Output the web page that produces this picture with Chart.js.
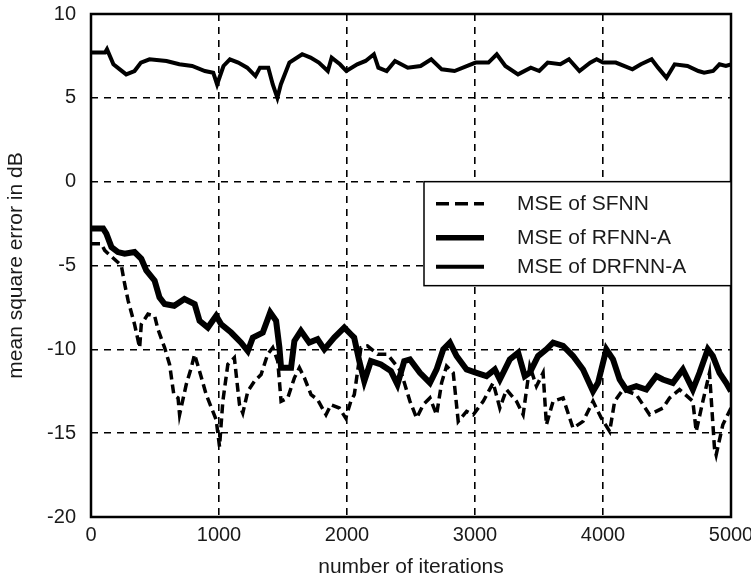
<!DOCTYPE html>
<html>
<head>
<meta charset="utf-8">
<script src="https://cdn.jsdelivr.net/npm/chart.js@4/dist/chart.umd.min.js"></script>
<style>
  html, body { margin: 0; padding: 0; background: #fff; }
  #wrap { width: 751px; height: 582px; }
</style>
</head>
<body>
<div id="wrap"><canvas id="mseChart"></canvas></div>
<script>
// values (iteration, MSE in dB)
const sfnnIter = [0, 80, 107, 150, 237, 263, 290, 340, 380, 393, 445, 497, 523, 575, 614, 647, 680, 692, 744, 783, 809, 848, 900, 952, 978, 1004, 1030, 1069, 1120, 1160, 1186, 1225, 1277, 1329, 1380, 1420, 1459, 1485, 1537, 1589, 1628, 1667, 1719, 1770, 1836, 1875, 1940, 1990, 2030, 2057, 2083, 2109, 2160, 2240, 2317, 2420, 2492, 2544, 2596, 2648, 2700, 2739, 2778, 2830, 2869, 2934, 2986, 3064, 3142, 3194, 3246, 3324, 3376, 3428, 3480, 3532, 3558, 3610, 3688, 3766, 3844, 3922, 3987, 4052, 4091, 4156, 4260, 4364, 4468, 4520, 4598, 4702, 4728, 4780, 4832, 4871, 4884, 4936, 5000];
const sfnnMse = [-3.7, -3.7, -4.1, -4.4, -5.0, -6.1, -7.1, -8.5, -9.9, -8.5, -7.9, -8.0, -8.8, -9.9, -10.9, -12.7, -12.9, -13.9, -12.1, -11.1, -10.3, -11.3, -12.7, -13.7, -14.2, -15.8, -13.1, -10.9, -10.5, -13.3, -13.8, -12.5, -11.9, -11.5, -10.3, -9.9, -10.7, -13.1, -12.9, -11.7, -11.1, -11.7, -12.7, -13.0, -13.9, -13.3, -13.5, -14.1, -13.1, -12.7, -11.3, -9.9, -9.8, -10.3, -10.3, -11.3, -13.1, -14.1, -13.3, -12.9, -13.9, -12.0, -11.0, -11.4, -14.3, -13.7, -13.9, -13.1, -12.0, -13.5, -12.4, -13.1, -13.9, -11.0, -12.2, -11.4, -14.5, -13.1, -12.9, -14.7, -14.3, -13.1, -14.1, -14.9, -13.1, -12.4, -12.7, -13.9, -13.5, -12.9, -12.4, -13.1, -14.9, -13.1, -11.4, -15.9, -16.3, -14.5, -13.5];

const rfnnIter = [0, 95, 120, 160, 210, 263, 340, 393, 432, 497, 535, 575, 650, 730, 810, 848, 913, 978, 1017, 1095, 1173, 1225, 1264, 1342, 1400, 1446, 1472, 1485, 1563, 1589, 1640, 1705, 1770, 1823, 1900, 1979, 2030, 2056, 2096, 2135, 2187, 2265, 2343, 2394, 2447, 2492, 2570, 2648, 2700, 2752, 2804, 2856, 2934, 3012, 3090, 3155, 3194, 3272, 3337, 3389, 3428, 3493, 3558, 3610, 3688, 3766, 3844, 3922, 3961, 4026, 4078, 4130, 4182, 4260, 4338, 4416, 4468, 4546, 4624, 4702, 4754, 4819, 4858, 4910, 4962, 5000];
const rfnnMse = [-2.8, -2.8, -3.1, -3.9, -4.2, -4.3, -4.2, -4.6, -5.3, -5.9, -6.9, -7.3, -7.4, -7.0, -7.3, -8.3, -8.7, -8.0, -8.5, -9.0, -9.6, -10.1, -9.3, -9.0, -7.8, -8.3, -9.9, -11.1, -11.1, -9.5, -8.9, -9.6, -9.4, -10.0, -9.3, -8.7, -9.1, -9.3, -10.7, -11.9, -10.7, -10.9, -11.3, -12.1, -10.7, -10.6, -11.4, -12.0, -11.2, -10.0, -9.6, -10.4, -11.2, -11.4, -11.6, -11.2, -11.8, -10.6, -10.2, -11.6, -11.4, -10.4, -10.0, -9.6, -9.8, -10.4, -11.2, -12.5, -12.0, -10.0, -10.6, -11.8, -12.4, -12.2, -12.4, -11.6, -11.8, -12.0, -11.2, -12.4, -11.4, -10.0, -10.4, -11.4, -12.0, -12.5];

const drfnnIter = [0, 110, 125, 175, 225, 275, 340, 390, 457, 590, 690, 790, 890, 955, 985, 1035, 1085, 1150, 1220, 1285, 1320, 1385, 1420, 1456, 1483, 1550, 1650, 1715, 1780, 1850, 1880, 1945, 1995, 2080, 2145, 2210, 2245, 2310, 2375, 2475, 2575, 2658, 2740, 2840, 2940, 3005, 3105, 3170, 3237, 3336, 3436, 3502, 3568, 3667, 3734, 3816, 3900, 3950, 4000, 4100, 4230, 4296, 4380, 4430, 4496, 4560, 4660, 4745, 4790, 4860, 4910, 4960, 5000];
const drfnnMse = [7.7, 7.7, 7.9, 7.0, 6.7, 6.4, 6.6, 7.1, 7.3, 7.2, 7.0, 6.9, 6.6, 6.5, 5.8, 6.9, 7.3, 7.1, 6.8, 6.3, 6.8, 6.8, 5.8, 5.0, 5.8, 7.1, 7.6, 7.4, 7.1, 6.6, 7.4, 7.0, 6.6, 7.0, 7.2, 7.6, 6.8, 6.6, 7.2, 6.8, 6.9, 7.3, 6.7, 6.6, 6.9, 7.1, 7.1, 7.6, 6.9, 6.4, 6.8, 6.6, 7.1, 7.0, 7.3, 6.6, 7.1, 7.3, 7.1, 7.1, 6.7, 7.0, 7.3, 6.8, 6.2, 7.0, 6.9, 6.6, 6.5, 6.6, 7.0, 6.9, 7.0];

const seriesLabels = ["MSE of SFNN", "MSE of RFNN-A", "MSE of DRFNN-A"];

const xTicks = [0, 1000, 2000, 3000, 4000, 5000];
const yTicks = [-20, -15, -10, -5, 0, 5, 10];

function toPoints(xs, ys) {
    return xs.map((x, i) => ({ x: x, y: ys[i] }));
}

const FONT = "'Liberation Sans', Arial, sans-serif";

// no extra room for half tick labels, so the plot box sits where the layout padding says
function noLabelPadding(scale) {
    scale.paddingLeft = 0;
    scale.paddingRight = 0;
    scale.paddingTop = 0;
    scale.paddingBottom = 0;
}

// boxed legend in the upper right of the plot area
const boxLegend = {
    id: 'boxLegend',
    afterDraw(chart) {
        const c = chart.ctx;
        const area = chart.chartArea;
        const yScale = chart.scales.y;
        const right = area.right;
        const left = right - 307;
        const top = yScale.getPixelForValue(0);
        const bottom = top + 104;
        c.save();
        c.fillStyle = '#fff';
        c.fillRect(left, top, right - left, bottom - top);
        c.strokeStyle = '#000';
        c.lineWidth = 1.5;
        c.strokeRect(left, top, right - left, bottom - top);

        const rows = [22, 56, 85];
        c.font = "21px " + FONT;
        c.textBaseline = 'middle';
        c.textAlign = 'left';
        chart.data.datasets.forEach((ds, i) => {
            const y = top + rows[i];
            c.beginPath();
            c.strokeStyle = '#000';
            c.lineWidth = i === 0 ? 3.5 : (i === 1 ? 5.5 : 4);
            c.setLineDash(i === 0 ? [13, 6] : []);
            c.moveTo(left + 12, y);
            c.lineTo(left + 60, y);
            c.stroke();
            c.setLineDash([]);
            c.fillStyle = '#1a1a1a';
            c.fillText(ds.label, left + 93, y + 1);
        });
        c.restore();
    }
};

// solid frame around the plot
const frame = {
    id: 'frame',
    afterDatasetsDraw(chart) {
        const c = chart.ctx;
        const a = chart.chartArea;
        c.save();
        c.strokeStyle = '#000';
        c.lineWidth = 2.5;
        c.strokeRect(a.left, a.top, a.right - a.left, a.bottom - a.top);
        c.restore();
    }
};

const ctx = document.getElementById("mseChart").getContext("2d");

new Chart(ctx, {
    type: 'line',
    data: {
        datasets: [
            {
                label: seriesLabels[0],
                data: toPoints(sfnnIter, sfnnMse),
                borderColor: '#000',
                borderWidth: 3.5,
                borderDash: [9, 5],
                pointRadius: 0,
                tension: 0,
                order: 2
            },
            {
                label: seriesLabels[1],
                data: toPoints(rfnnIter, rfnnMse),
                borderColor: '#000',
                borderWidth: 6,
                pointRadius: 0,
                tension: 0,
                order: 1
            },
            {
                label: seriesLabels[2],
                data: toPoints(drfnnIter, drfnnMse),
                borderColor: '#000',
                borderWidth: 4,
                pointRadius: 0,
                tension: 0,
                order: 1
            }
        ]
    },
    options: {
        responsive: true,
        maintainAspectRatio: false,
        animation: false,
        layout: { padding: { top: 14, right: 20, left: 0, bottom: 0 } },
        plugins: {
            legend: { display: false },
            tooltip: { enabled: false }
        },
        scales: {
            x: {
                type: 'linear',
                min: 0,
                max: 5000,
                afterBuildTicks: (scale) => { scale.ticks = xTicks.map(v => ({ value: v })); },
                afterFit: (scale) => { scale.height = 65; noLabelPadding(scale); },
                ticks: {
                    color: '#1a1a1a',
                    padding: 6,
                    maxRotation: 0,
                    font: { family: FONT, size: 20 },
                    callback: (v) => String(v)
                },
                grid: { color: '#000', lineWidth: 1.6, drawTicks: false },
                border: { display: false, dash: [7, 6] },
                title: {
                    display: true,
                    text: 'number of iterations',
                    color: '#1a1a1a',
                    font: { family: FONT, size: 21 },
                    padding: { top: 0, bottom: 2 }
                }
            },
            y: {
                min: -20,
                max: 10,
                afterBuildTicks: (scale) => { scale.ticks = yTicks.map(v => ({ value: v })); },
                afterFit: (scale) => { scale.width = 91; noLabelPadding(scale); },
                ticks: {
                    color: '#1a1a1a',
                    padding: 15,
                    font: { family: FONT, size: 20 },
                    callback: (v) => String(v)
                },
                grid: { color: '#000', lineWidth: 1.6, drawTicks: false },
                border: { display: false, dash: [7, 6] },
                title: {
                    display: true,
                    text: 'mean square error in dB',
                    color: '#1a1a1a',
                    font: { family: FONT, size: 21 },
                    padding: { top: 4, bottom: 0 }
                }
            }
        }
    },
    plugins: [frame, boxLegend]
});
</script>
</body>
</html>
